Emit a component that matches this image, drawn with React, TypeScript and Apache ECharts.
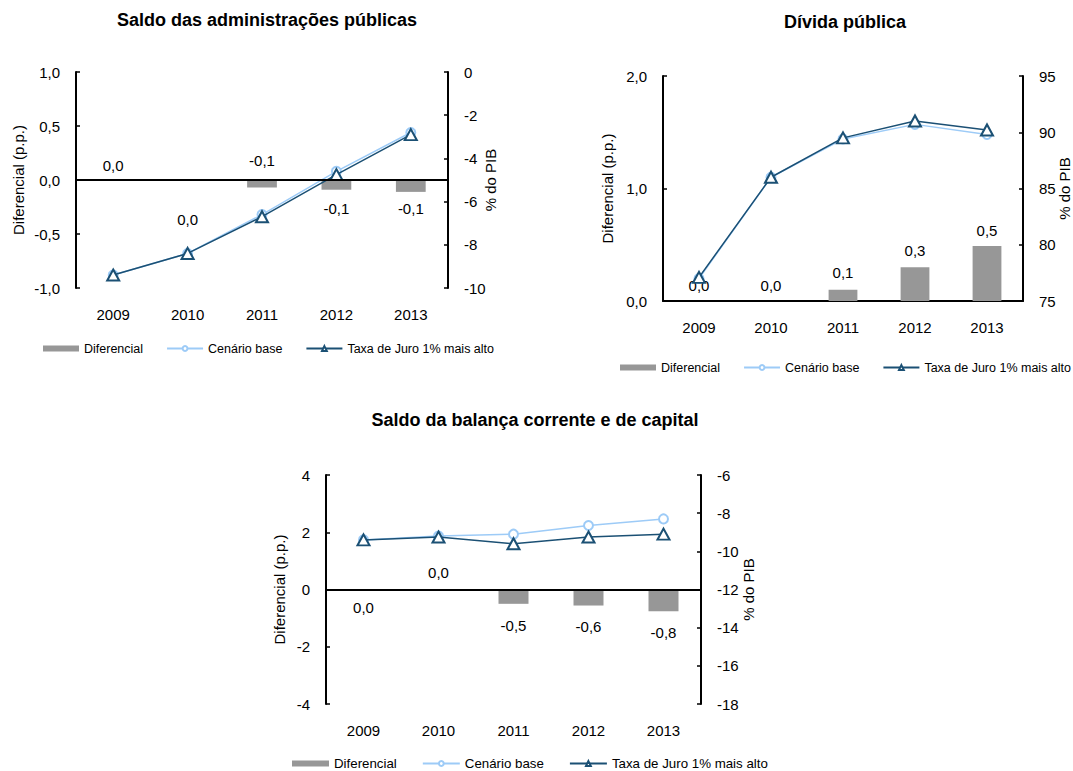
import React, { useEffect, useRef } from "react";
import * as echarts from "echarts";

// ---- data ----
const years = ["2009", "2010", "2011", "2012", "2013"];

// Chart 1: Saldo das administrações públicas
const diff1 = [0, 0, -0.07, -0.09, -0.11];
const base1 = [-9.4, -8.4, -6.6, -4.6, -2.8];
const juro1 = [-9.4, -8.4, -6.7, -4.75, -2.9];

// Chart 2: Dívida pública
const diff2 = [0, 0, 0.1, 0.3, 0.49];
const base2 = [77.0, 86.0, 89.4, 90.7, 89.8];
const juro2 = [77.1, 86.0, 89.5, 91.0, 90.2];

// Chart 3: Saldo da balança corrente e de capital
const diff3 = [0, 0, -0.5, -0.56, -0.76];
const base3 = [-9.4, -9.2, -9.1, -8.65, -8.3];
const juro3 = [-9.4, -9.25, -9.6, -9.25, -9.1];

const titles = [
  "Saldo das administrações públicas",
  "Dívida pública",
  "Saldo da balança corrente e de capital",
];
const seriesNames = ["Diferencial", "Cenário base", "Taxa de Juro 1% mais alto"];
const leftName = "Diferencial (p.p.)";
const rightName = "% do PIB";

// label placement (position, vertical offset) per bar
const labelPlace1: [string, number][] = [["top", -2], ["bottom", 27], ["top", -7], ["bottom", 6], ["bottom", 4]];
const labelPlace2: [string, number][] = [["top", -3], ["top", -3], ["top", -5], ["top", -4], ["top", -3]];
const labelPlace3: [string, number][] = [["bottom", 5], ["top", -5], ["bottom", 9], ["bottom", 8], ["bottom", 9]];

const FONT = "'Liberation Sans', Arial, sans-serif";
const GRAY = "#979797";
const LIGHT = "#9DCBF7";
const DARK = "#1B5074";

const comma1 = (v: number) => v.toFixed(1).replace(".", ",").replace(/^-0,0$/, "0,0");

export default function App() {
  const ref = useRef<HTMLDivElement>(null);
  useEffect(() => {
    if (!ref.current) return;
    const chart = echarts.init(ref.current, undefined, { renderer: "svg" });

    const grids = [
      { left: 76, top: 72, width: 372, height: 216 },
      { left: 663, top: 76, width: 361, height: 225 },
      { left: 326, top: 475, width: 375, height: 229 },
    ];
    const leftAx = [
      { min: -1, max: 1, interval: 0.5, gap: 50 },
      { min: 0, max: 2, interval: 1, gap: 48 },
      { min: -4, max: 4, interval: 2, gap: 39 },
    ];
    const rightAx = [
      { min: -10, max: 0, interval: 2, gap: 35 },
      { min: 75, max: 95, interval: 5, gap: 34 },
      { min: -18, max: -6, interval: 2, gap: 40 },
    ];
    const diffs = [diff1, diff2, diff3];
    const bases = [base1, base2, base3];
    const juros = [juro1, juro2, juro3];
    const places = [labelPlace1, labelPlace2, labelPlace3];
    const legendCfg = [
      { left: 43, top: 342, font: 12.5, w: 36, gap: 23 },
      { left: 620, top: 361, font: 12.5, w: 36, gap: 23 },
      { left: 292, top: 757, font: 13.3, w: 37, gap: 25 },
    ];
    const titlePos = [
      [267, 20],
      [845, 22],
      [535, 420],
    ];

    const axisLineStyle = { show: true, lineStyle: { color: "#000", width: 2 } };
    const tick = { show: true, inside: true, length: 4, lineStyle: { color: "#000", width: 1.5 } };
    const lblStyle = { color: "#000", fontSize: 15, fontFamily: FONT };

    const xAxis: any[] = [];
    const yAxis: any[] = [];
    const series: any[] = [];
    const legend: any[] = [];

    for (let i = 0; i < 3; i++) {
      xAxis.push({
        type: "category",
        gridIndex: i,
        data: years,
        position: "bottom",
        axisLine: i === 1 ? { show: true, onZero: false, lineStyle: { color: "#000", width: 2 } } : { show: false, onZero: false },
        axisTick: { show: false },
        axisLabel: { ...lblStyle, margin: 19 },
        splitLine: { show: false },
      });
      yAxis.push({
        type: "value",
        gridIndex: i,
        position: "left",
        min: leftAx[i].min,
        max: leftAx[i].max,
        interval: leftAx[i].interval,
        name: leftName,
        nameLocation: "middle",
        nameGap: leftAx[i].gap,
        nameMoveOverlap: false,
        nameTextStyle: { color: "#000", fontSize: 15, fontFamily: FONT },
        axisLine: axisLineStyle,
        axisTick: tick,
        axisLabel: {
          ...lblStyle,
          margin: 16,
          formatter: (v: number) => (i === 2 ? String(v) : comma1(v)),
        },
        splitLine: { show: false },
      });
      yAxis.push({
        type: "value",
        gridIndex: i,
        position: "right",
        min: rightAx[i].min,
        max: rightAx[i].max,
        interval: rightAx[i].interval,
        name: rightName,
        nameLocation: "middle",
        nameGap: rightAx[i].gap,
        nameRotate: 90,
        nameMoveOverlap: false,
        nameTextStyle: { color: "#000", fontSize: 15, fontFamily: FONT },
        axisLine: axisLineStyle,
        axisTick: tick,
        axisLabel: { ...lblStyle, margin: 16 },
        splitLine: { show: false },
      });

      series.push({
        type: "bar",
        name: seriesNames[0],
        xAxisIndex: i,
        yAxisIndex: i * 2,
        barWidth: "40%",
        itemStyle: { color: GRAY },
        z: 2,
        data: diffs[i].map((v, k) => ({
          value: v,
          label: {
            show: true,
            position: places[i][k][0],
            offset: [0, places[i][k][1]],
            formatter: () => comma1(v),
            color: "#000",
            fontSize: 15,
            fontFamily: FONT,
          },
        })),
        markLine:
          i === 1
            ? undefined
            : {
                silent: true,
                symbol: "none",
                label: { show: false },
                lineStyle: { color: "#000", width: 2, type: "solid" },
                data: [{ yAxis: 0 }],
                z: 5,
              },
      });
      series.push({
        type: "line",
        name: seriesNames[1],
        xAxisIndex: i,
        yAxisIndex: i * 2 + 1,
        data: bases[i],
        symbol: "emptyCircle",
        symbolSize: 9,
        lineStyle: { color: LIGHT, width: 1.5 },
        itemStyle: { color: LIGHT, borderWidth: 1.5 },
        z: 3,
      });
      series.push({
        type: "line",
        name: seriesNames[2],
        xAxisIndex: i,
        yAxisIndex: i * 2 + 1,
        data: juros[i],
        symbol: "emptyTriangle",
        symbolSize: [12, 11],
        lineStyle: { color: DARK, width: 1.5 },
        itemStyle: { color: DARK, borderWidth: 1.5 },
        z: 4,
      });
      legend.push({
        left: legendCfg[i].left,
        top: legendCfg[i].top,
        width: 500,
        padding: 0,
        orient: "horizontal",
        itemWidth: legendCfg[i].w,
        itemHeight: 6,
        itemGap: legendCfg[i].gap,
        selectedMode: false,
        textStyle: { color: "#000", fontSize: legendCfg[i].font, fontFamily: FONT },
        data: [{ name: seriesNames[0], icon: "rect" }, seriesNames[1], seriesNames[2]],
      });
    }

    chart.setOption({
      animation: false,
      backgroundColor: "#fff",
      grid: grids,
      xAxis,
      yAxis,
      series,
      legend,
      graphic: titles.map((t, i) => ({
        type: "text",
        x: titlePos[i][0],
        y: titlePos[i][1],
        style: {
          text: t,
          textAlign: "center",
          textVerticalAlign: "middle",
          align: "center",
          verticalAlign: "middle",
          font: `bold 18px ${FONT}`,
          fill: "#000",
        },
      })),
    });
    return () => chart.dispose();
  }, []);

  return (
    <div
      ref={ref}
      style={{ position: "absolute", left: 0, top: 0, width: 1073, height: 771, background: "#fff" }}
    />
  );
}
